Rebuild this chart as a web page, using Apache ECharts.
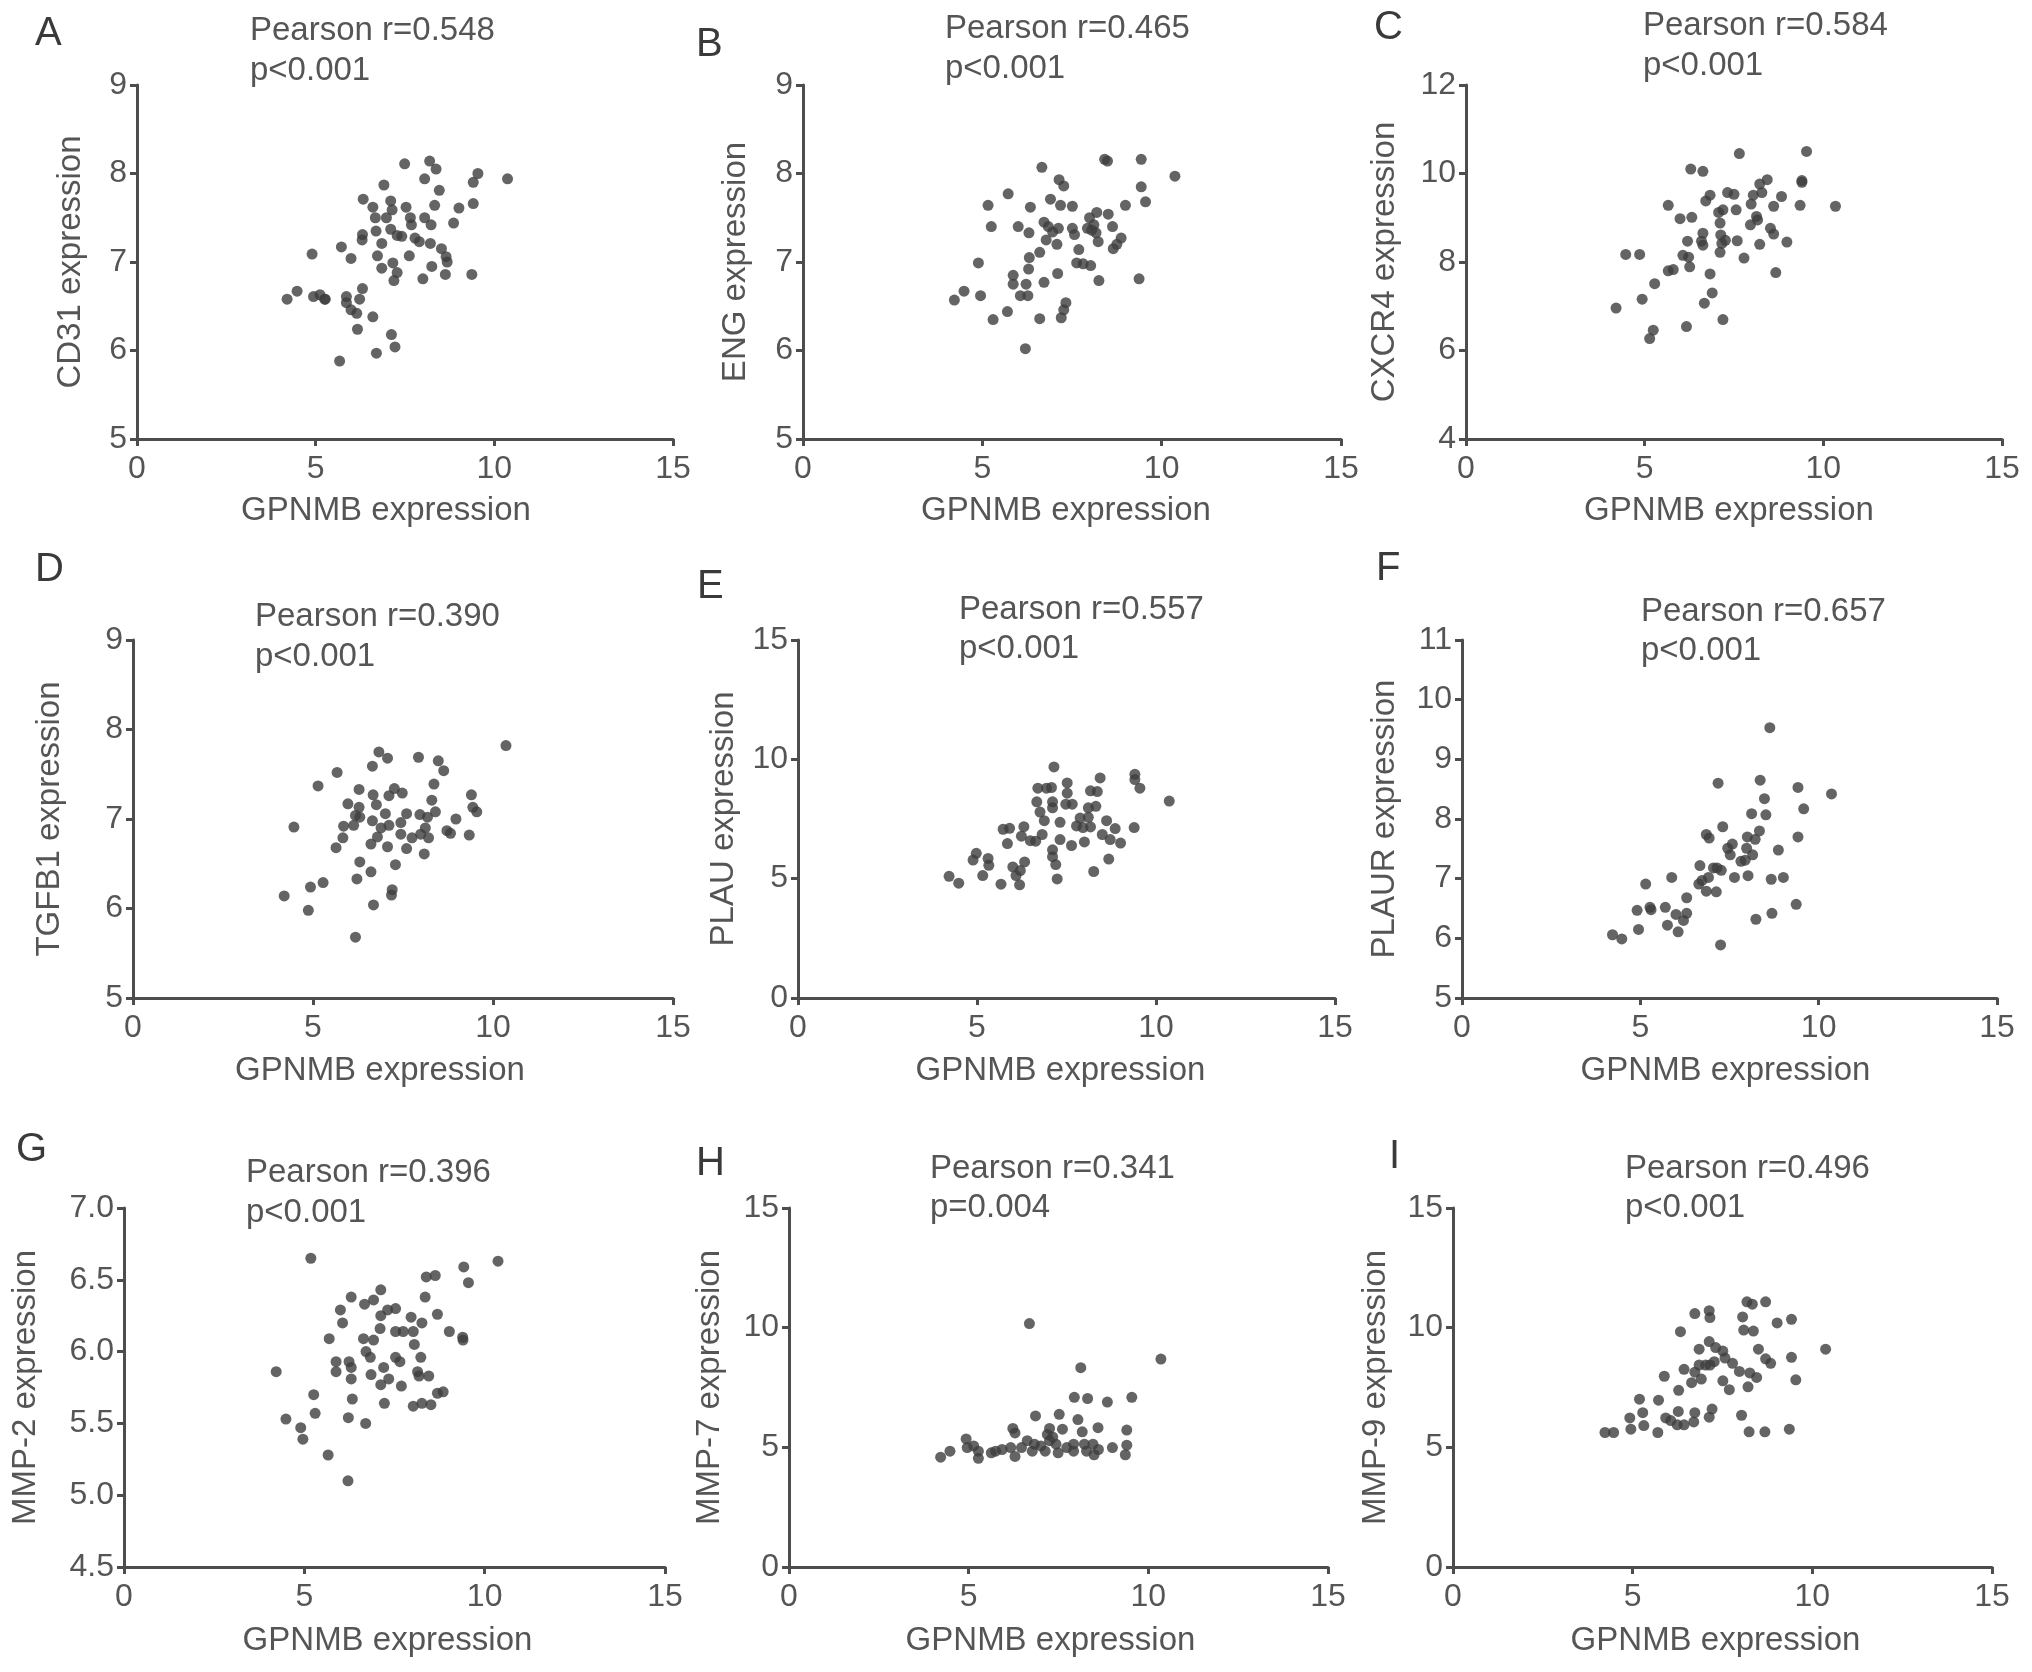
<!DOCTYPE html>
<html>
<head>
<meta charset="utf-8">
<script src="https://cdn.jsdelivr.net/npm/echarts@6/dist/echarts.min.js"></script>
<style>html,body{margin:0;padding:0;background:#fff;}#c{width:2032px;height:1672px;}</style>
</head>
<body>
<div id="c"></div>
<script>
// ---------- DATA ----------
const xTicks = [0, 5, 10, 15];

const aX = [10.37,9.54,9.41,9.41,9.37,9.01,8.86,8.65,8.68,8.52,8.63,8.46,8.33,8.37,8.19,8.05,8.05,8.23,8.21,8.25,8.0,7.90,7.78,7.68,7.65,7.53,7.49,7.62,7.41,7.28,7.28,7.19,7.16,7.14,7.10,7.10,6.98,6.91,6.85,6.85,6.73,6.69,6.60,6.67,6.33,6.31,6.30,6.31,6.23,6.60,6.17,6.15,5.99,5.86,5.86,5.99,5.72,5.67,6.70,7.12,7.22,4.90,5.25,5.12,4.94,4.48,4.20,5.27];
const aY = [7.94,8.0,7.90,7.66,6.86,7.61,7.44,7.06,7.0,7.15,6.86,7.81,7.64,8.05,8.14,7.94,7.50,7.42,7.21,6.95,6.81,7.23,7.27,7.42,7.50,7.62,8.11,7.07,7.29,7.30,6.88,6.79,6.99,7.59,7.69,7.37,7.50,7.87,7.21,6.93,7.07,7.35,7.62,7.50,7.71,7.31,7.25,6.70,6.58,6.38,6.24,6.42,6.46,6.54,6.61,7.04,7.17,5.88,5.97,6.18,6.04,7.09,6.58,6.63,6.61,6.67,6.58,6.58];

const bX = [10.37,9.43,9.43,9.55,9.37,8.99,8.87,8.75,8.65,8.63,8.51,8.41,8.49,8.19,8.23,8.17,8.11,7.99,8.05,7.93,8.02,8.25,7.81,7.63,7.69,7.57,7.51,7.51,7.27,7.14,7.18,7.12,7.08,7.10,6.90,6.84,6.72,6.78,6.66,6.60,6.72,6.60,7.20,7.27,7.33,6.34,6.30,6.31,6.29,6.22,6.27,6.06,6.0,6.20,5.86,5.86,5.70,5.72,5.25,5.16,5.30,4.95,4.89,4.49,4.22,6.96];
const bY = [7.97,8.16,7.85,7.68,6.81,7.64,7.27,7.20,7.15,7.40,7.54,8.16,8.14,7.56,7.23,7.33,7.42,7.50,7.36,7.38,6.96,6.79,6.98,6.99,7.14,7.31,7.38,7.63,7.86,7.93,7.64,7.38,7.20,6.87,7.71,7.40,7.45,7.25,8.07,7.11,6.77,6.36,6.37,6.46,6.54,7.62,7.33,7.05,6.92,6.75,6.62,6.62,7.40,6.02,6.85,6.75,6.44,7.77,7.40,7.64,6.35,6.62,6.99,6.67,6.57,7.34];

const cX = [10.34,9.53,9.40,9.40,9.35,8.98,8.83,8.61,8.67,8.61,8.52,8.43,8.28,8.22,8.16,8.04,7.98,7.96,8.22,7.65,7.78,7.59,7.56,7.50,7.32,7.19,7.11,7.13,7.16,7.11,7.26,7.19,6.83,6.71,6.63,6.59,6.83,6.89,6.67,6.63,6.29,6.32,6.20,6.23,6.26,6.07,6.17,5.99,5.66,5.80,5.66,5.28,4.93,4.86,4.47,4.20,5.24,5.14,6.63,7.07,8.13];
const cY = [9.26,10.50,9.84,9.80,9.28,8.45,9.48,9.26,7.76,8.63,8.76,9.86,9.57,9.76,8.95,9.51,9.31,8.84,8.40,10.45,8.09,8.48,9.18,9.53,9.57,9.18,8.88,8.61,8.42,8.22,8.49,6.70,9.51,9.38,8.65,8.47,7.73,7.30,7.07,10.05,10.10,9.01,8.47,8.11,7.89,8.15,6.54,8.98,9.28,7.83,7.80,7.51,7.16,8.17,8.17,6.96,6.46,6.27,8.38,9.12,9.03];

const dX = [10.36,9.55,9.44,9.40,9.34,8.97,8.72,8.82,8.63,8.48,8.36,8.30,8.40,8.18,8.21,8.12,7.97,7.93,7.99,8.09,7.75,7.60,7.60,7.44,7.44,7.48,7.26,7.11,7.07,6.83,6.65,6.67,6.76,7.01,6.89,7.11,6.79,6.61,7.07,7.29,6.28,6.28,6.30,6.13,5.97,5.85,5.83,5.67,5.64,6.30,6.22,6.61,7.20,7.18,6.68,6.18,5.14,5.28,4.93,4.87,4.20,4.47,6.18,6.65];
const dY = [7.82,7.08,7.13,7.27,6.82,7.0,6.87,6.84,7.54,7.65,7.39,7.21,7.08,7.02,6.79,6.90,7.05,7.69,6.83,6.61,6.79,6.67,7.06,6.96,6.83,7.29,7.34,7.26,7.68,7.75,7.59,7.27,7.16,7.06,6.90,6.93,6.80,6.72,6.69,6.49,7.33,7.13,7.02,6.93,7.17,6.92,6.79,7.52,6.68,6.52,6.33,6.41,6.21,6.15,6.04,5.68,7.37,6.29,6.24,5.98,6.14,6.91,7.04,6.98];

const eX = [10.37,9.55,9.41,9.41,9.39,9.01,8.86,8.72,8.62,8.68,8.44,8.36,8.17,8.50,8.26,8.32,8.11,8.11,8.17,8.0,7.96,7.78,7.66,7.52,7.52,7.48,7.64,7.32,7.32,7.15,7.08,7.11,7.11,6.94,6.70,6.67,6.76,6.88,6.82,6.64,7.11,7.11,7.20,7.24,6.31,6.24,6.33,6.21,6.09,6.19,6.0,5.91,5.73,5.85,5.67,5.31,5.33,5.16,4.98,4.89,4.49,4.22,6.49,7.88];
const eY = [8.25,8.79,9.15,9.37,7.14,6.49,7.10,6.64,7.43,5.82,9.22,8.65,8.68,6.85,5.30,8.03,7.97,7.57,7.17,6.54,7.14,7.21,8.12,9.01,8.58,8.12,6.39,7.36,6.64,9.68,8.82,8.22,7.97,8.79,8.79,8.22,7.79,7.43,6.85,6.57,6.21,5.92,5.59,4.99,7.18,6.78,5.70,5.34,5.13,4.74,5.49,7.11,7.07,6.47,4.77,5.85,5.56,5.13,6.06,5.78,4.81,5.10,6.59,7.54];

const fX = [10.36,9.58,9.42,9.42,9.37,9.01,8.87,8.67,8.69,8.63,8.48,8.52,8.36,8.34,8.12,8.22,8.24,8.02,8.15,8.0,7.98,7.82,7.58,7.52,7.64,7.31,7.18,7.27,7.15,7.13,7.25,6.85,6.93,6.67,6.73,6.64,6.85,6.91,6.30,6.30,6.21,6.06,5.88,5.76,5.70,6.0,5.27,5.30,4.91,5.15,4.95,4.48,4.22,7.05,7.45,7.94];
const fY = [8.42,8.17,8.53,7.70,6.57,7.02,7.48,6.99,6.42,9.53,8.34,8.07,8.65,7.80,8.09,7.66,6.32,7.05,7.40,7.70,7.51,7.29,7.58,7.40,7.02,7.87,8.60,7.14,7.18,6.78,5.89,7.74,7.68,7.22,6.97,6.91,6.79,7.02,6.68,6.42,6.30,6.11,7.02,6.22,6.52,6.40,6.52,6.48,6.47,6.91,6.15,5.99,6.06,7.18,7.51,7.31];

const gX = [10.37,9.42,9.55,9.40,9.39,9.02,8.69,8.63,8.38,8.35,8.26,7.96,8.05,8.23,8.14,8.18,8.45,8.69,8.85,8.51,8.26,8.02,8.02,7.74,7.53,7.53,7.31,7.12,7.12,7.10,6.92,6.67,6.92,6.64,6.71,6.83,6.85,7.20,7.34,7.12,7.53,7.65,7.69,7.22,6.30,6.0,6.06,5.69,5.88,5.88,6.24,6.30,6.30,6.33,6.22,6.70,5.66,6.21,5.26,5.30,4.90,4.96,4.49,4.22,5.18];
const gY = [6.63,6.59,6.48,6.08,6.10,6.14,6.26,6.53,6.52,6.38,6.20,6.24,6.05,5.96,5.86,5.83,5.83,5.71,5.72,5.63,5.64,5.62,6.14,6.14,6.14,6.30,6.29,6.43,6.25,6.16,6.36,6.33,6.08,6.09,6.0,5.96,5.84,5.89,5.81,5.77,5.96,5.93,5.76,5.64,6.38,6.29,6.20,6.09,5.93,5.86,5.93,5.89,5.81,5.67,5.54,5.50,5.28,5.10,5.70,5.57,5.47,5.39,5.53,5.86,6.65];

const hX = [10.35,6.69,8.12,9.54,8.86,8.31,7.94,6.86,7.52,8.04,9.40,8.60,8.16,7.61,7.25,7.19,6.23,6.29,9.40,9.36,9.0,8.61,8.49,8.28,8.22,7.92,7.73,7.49,7.43,7.25,7.13,7.01,6.77,6.63,6.47,6.29,6.17,5.93,5.75,5.63,5.27,5.27,5.14,4.93,4.96,4.48,4.22,7.92,8.46,7.34,6.83];
const hY = [8.69,10.17,8.33,7.09,6.89,7.04,7.09,6.31,6.38,6.16,5.72,5.82,5.65,5.76,5.79,5.54,5.79,5.60,5.09,4.69,4.99,4.91,4.69,4.84,5.13,5.13,4.99,4.77,5.13,5.28,4.84,5.06,4.84,5.28,4.99,4.62,4.99,4.91,4.84,4.77,4.84,4.54,5.06,5.35,4.99,4.84,4.59,4.84,5.13,5.43,5.13];

const iX = [10.37,9.42,9.42,9.54,9.36,9.02,8.70,8.33,8.18,8.06,8.09,8.36,8.50,8.70,8.84,8.45,8.21,8.26,7.97,8.03,8.24,8.68,7.78,7.57,7.51,7.31,7.13,7.13,7.15,6.73,6.85,7.27,7.03,6.85,6.91,6.64,6.73,7.51,7.69,6.43,6.33,6.28,5.88,6.27,6.24,6.06,5.92,6.73,6.70,7.21,7.13,5.72,5.70,5.19,5.28,5.31,4.92,4.95,4.47,4.23,6.43,7.15];
const iY = [9.10,10.35,8.76,7.82,5.76,10.20,11.08,10.98,11.08,10.45,9.90,9.86,9.10,8.70,8.51,7.92,7.53,8.11,8.17,6.34,5.65,5.65,8.51,8.73,9.02,9.17,9.42,10.71,10.42,10.59,9.10,8.58,8.44,8.44,7.85,7.70,8.14,7.78,7.41,8.26,9.83,7.38,7.97,6.50,5.94,6.12,6.23,6.45,6.06,6.60,6.26,6.97,5.62,7.01,6.45,5.91,6.23,5.76,5.62,5.62,5.94,8.44];

// ---------- LAYOUT ----------
const FONT = '"Liberation Sans", Arial, Helvetica, sans-serif';
const TXT = '#555555';
const AX = '#4d4d4d';
const DOT = '#3d3d3d';

const panels = [
  {L:'A', x:aX, y:aY, g:[137,85,536,354],  yr:[5,9,1],   yn:'CD31 expression',  yg:50, xg:55, xo:-19, r:'Pearson r=0.548', p:'p<0.001', tp:[250,31,71],  lp:[35,34]},
  {L:'B', x:bX, y:bY, g:[803,85,538,354],  yr:[5,9,1],   yn:'ENG expression',   yg:51, xg:55, xo:-6, r:'Pearson r=0.465', p:'p<0.001', tp:[945,29,69],  lp:[696,45]},
  {L:'C', x:cX, y:cY, g:[1466,85,536,354], yr:[4,12,2],  yn:'CXCR4 expression', yg:65, xg:55, xo:-5, r:'Pearson r=0.584', p:'p<0.001', tp:[1643,26,66], lp:[1374,28]},
  {L:'D', x:dX, y:dY, g:[133,640,540,358], yr:[5,9,1],   yn:'TGFB1 expression', yg:67, xg:56, xo:-23, r:'Pearson r=0.390', p:'p<0.001', tp:[255,617,657], lp:[35,570]},
  {L:'E', x:eX, y:eY, g:[798,640,537,358], yr:[0,15,5],  yn:'PLAU expression',  yg:58, xg:56, xo:-6, r:'Pearson r=0.557', p:'p<0.001', tp:[959,610,649], lp:[697,587]},
  {L:'F', x:fX, y:fY, g:[1462,640,535,358],yr:[5,11,1],  yn:'PLAUR expression', yg:61, xg:56, xo:-4, r:'Pearson r=0.657', p:'p<0.001', tp:[1641,612,651], lp:[1376,569]},
  {L:'G', x:gX, y:gY, g:[124,1208,541,359],yr:[4.5,7,0.5],yn:'MMP-2 expression', yg:82, xg:57, xo:-7, r:'Pearson r=0.396', p:'p<0.001', tp:[246,1173,1213], lp:[16,1150], dec:1},
  {L:'H', x:hX, y:hY, g:[789,1208,539,359],yr:[0,15,5],  yn:'MMP-7 expression', yg:63, xg:57, xo:-8, r:'Pearson r=0.341', p:'p=0.004', tp:[930,1169,1208], lp:[696,1164]},
  {L:'I', x:iX, y:iY, g:[1453,1208,539,359],yr:[0,15,5], yn:'MMP-9 expression', yg:61, xg:57, xo:-7, r:'Pearson r=0.496', p:'p<0.001', tp:[1625,1169,1208], lp:[1389,1157]}
];

const axisLineStyle = {color: AX, width: 3};
const labelStyle = {color: TXT, fontSize: 32, fontFamily: FONT};

const grid = [], xAxis = [], yAxis = [], series = [], graphic = [];
panels.forEach((P, i) => {
  grid.push({left: P.g[0], top: P.g[1], width: P.g[2], height: P.g[3], containLabel: false});
  xAxis.push({
    type: 'value', gridIndex: i, min: xTicks[0], max: xTicks[xTicks.length - 1], interval: 5,
    name: 'GPNMB expression', nameLocation: 'middle', nameGap: P.xg,
    nameTextStyle: {color: TXT, fontSize: 33, fontFamily: FONT, padding: [0, -2 * P.xo, 0, 0]},
    axisLine: {show: true, onZero: false, lineStyle: axisLineStyle},
    axisTick: {show: true, length: 7, lineStyle: axisLineStyle},
    axisLabel: Object.assign({margin: 14}, labelStyle),
    splitLine: {show: false}
  });
  yAxis.push({
    type: 'value', gridIndex: i, min: P.yr[0], max: P.yr[1], interval: P.yr[2],
    name: P.yn, nameLocation: 'middle', nameGap: P.yg,
    nameTextStyle: {color: TXT, fontSize: 33, fontFamily: FONT},
    axisLine: {show: true, onZero: false, lineStyle: axisLineStyle},
    axisTick: {show: true, length: 7, lineStyle: axisLineStyle},
    axisLabel: Object.assign({margin: 10, formatter: P.dec ? (v => v.toFixed(P.dec)) : (v => String(v))}, labelStyle),
    splitLine: {show: false}
  });
  series.push({
    type: 'scatter', xAxisIndex: i, yAxisIndex: i, symbol: 'circle', symbolSize: 11,
    itemStyle: {color: DOT}, silent: true,
    data: P.x.map((v, k) => [v, P.y[k]])
  });
  graphic.push({type: 'text', x: P.lp[0], y: P.lp[1], style: {text: P.L, fontSize: 40, fontFamily: FONT, fill: '#3a3a3a', verticalAlign: 'middle', textVerticalAlign: 'middle'}});
  graphic.push({type: 'text', x: P.tp[0], y: P.tp[1], style: {text: P.r, fontSize: 33, fontFamily: FONT, fill: TXT, verticalAlign: 'middle', textVerticalAlign: 'middle'}});
  graphic.push({type: 'text', x: P.tp[0], y: P.tp[2], style: {text: P.p, fontSize: 33, fontFamily: FONT, fill: TXT, verticalAlign: 'middle', textVerticalAlign: 'middle'}});
});

const chart = echarts.init(document.getElementById('c'), null, {renderer: 'canvas'});
chart.setOption({backgroundColor: '#fff', animation: false, grid, xAxis, yAxis, series, graphic});
</script>
</body>
</html>
